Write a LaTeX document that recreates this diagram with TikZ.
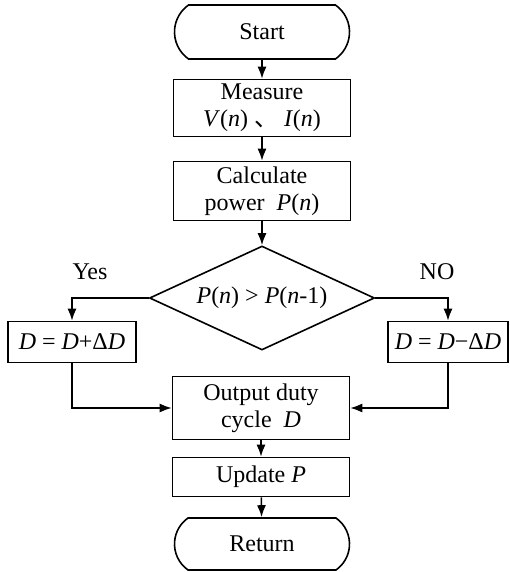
\documentclass[tikz,border=0pt]{standalone}
\usepackage{fontspec}
\setmainfont{Liberation Serif}
\newfontfamily\cjk{Noto Sans CJK SC}
\usetikzlibrary{shapes.geometric,shapes.misc,arrows.meta}
\newcommand{\vi}[1]{\textit{#1}}
\tikzset{
  box/.style={draw,line width=1.6pt,minimum width=177pt,align=center,inner sep=1pt},
  term/.style={box,rounded rectangle,rounded rectangle arc length=110,minimum height=54pt},
  test/.style={draw,line width=1.6pt,diamond,aspect=2.2,minimum width=225pt,minimum height=104pt,inner sep=0pt},
  flow/.style={line width=1.6pt,-{Latex[length=12pt,width=9pt]}}
}
\begin{document}
\begin{tikzpicture}[x=1pt,y=-1pt,font=\fontsize{24}{27}\selectfont]
    \useasboundingbox (0,0) rectangle (510,572);
    \node[term] (start) at (262,32) {Start};
    \node[box,minimum height=57pt] (meas) at (262,108) {Measure\\\vi{V}(\vi{n}) {\cjk 、} \vi{I}(\vi{n})};
    \node[box,minimum height=59pt] (calc) at (262,191) {Calculate\\power\ \ \vi{P}(\vi{n})};
    \node[test] (dec) at (262,298) {\vi{P}(\vi{n}) > \vi{P}(\vi{n}-1)};
    \node[box,minimum width=128pt,minimum height=41pt] (inc) at (72,342) {\vi{D} = \vi{D}+Δ\vi{D}};
    \node[box,minimum width=120pt,minimum height=41pt] (dcr) at (448,342) {\vi{D} = \vi{D}−Δ\vi{D}};
    \node[box,minimum height=63pt] (out) at (261,408) {Output duty\\cycle\ \ \vi{D}};
    \node[box,minimum height=39pt] (upd) at (261,477) {Update \vi{P}};
    \node[term,minimum height=52pt] (ret) at (262,544) {Return};
    \node (yes) at (90,272) {Yes};
    \node (no) at (437,272) {NO};
    \foreach \a/\b in {start/meas,meas/calc,calc/dec,out/upd,upd/ret}
        {\draw[flow] (\a) -- (\b);
        }
    \draw[flow] (dec.west) -| (inc.north);
    \draw[flow] (dec.east) -| (dcr.north);
    \draw[flow] (inc.south) |- (out.west);
    \draw[flow] (dcr.south) |- (out.east);
\end{tikzpicture}
\end{document}
